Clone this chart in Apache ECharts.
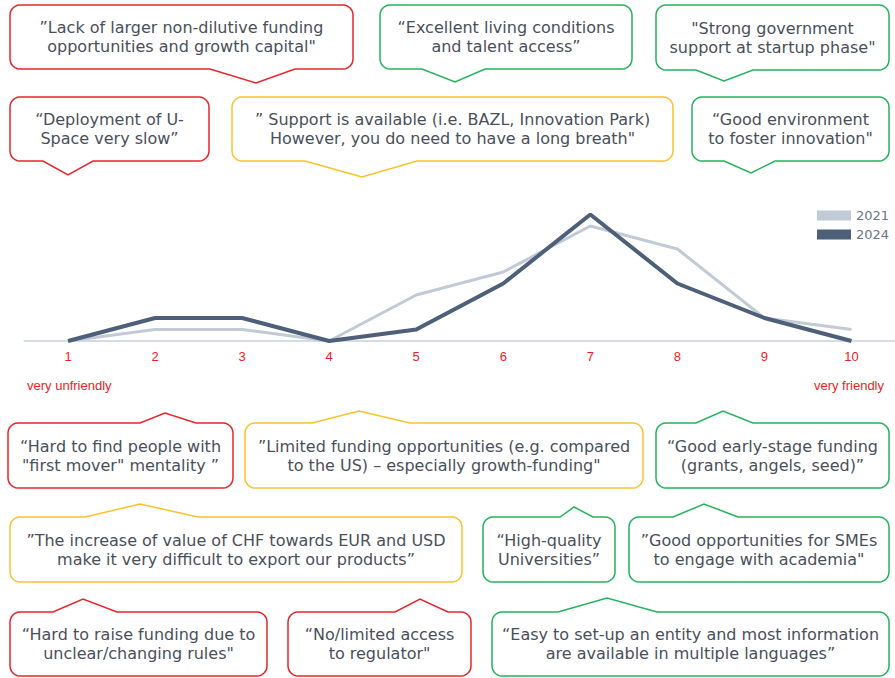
<!DOCTYPE html>
<html>
<head>
<meta charset="utf-8">
<script src="https://cdn.jsdelivr.net/npm/echarts@6/dist/echarts.min.js"></script>
<style>
  html, body { margin: 0; padding: 0; background: #fff; }
  #main { width: 895px; height: 678px; }
</style>
</head>
<body>
<div id="main"></div>
<script>
// friendliness score 1..10, number of answers per score
var categories = ['1', '2', '3', '4', '5', '6', '7', '8', '9', '10'];
var seriesNames = ['2021', '2024'];
var values2021 = [0, 1, 1, 0, 4, 6, 10, 8, 2, 1];
var values2024 = [0, 2, 2, 0, 1, 5, 11, 5, 2, 0];
var scaleEnds = ['very unfriendly', 'very friendly'];

// quotes shown around the chart
var quotes = [
  '”Lack of larger non-dilutive funding\nopportunities and growth capital"',
  '“Excellent living conditions\nand talent access”',
  '"Strong government\nsupport at startup phase"',
  '“Deployment of U-\nSpace very slow”',
  '” Support is available (i.e. BAZL, Innovation Park)\nHowever, you do need to have a long breath"',
  '“Good environment\nto foster innovation"',
  '“Hard to find people with\n"first mover" mentality ”',
  '”Limited funding opportunities (e.g. compared\nto the US) – especially growth-funding"',
  '“Good early-stage funding\n(grants, angels, seed)”',
  '”The increase of value of CHF towards EUR and USD\nmake it very difficult to export our products”',
  '“High-quality\nUniversities”',
  '”Good opportunities for SMEs\nto engage with academia"',
  '“Hard to raise funding due to\nunclear/changing rules"',
  '“No/limited access\nto regulator"',
  '“Easy to set-up an entity and most information\nare available in multiple languages”'
];
var quoteTones = ['neg', 'pos', 'pos', 'neg', 'mid', 'pos', 'neg', 'mid', 'pos', 'mid', 'pos', 'pos', 'neg', 'neg', 'pos'];

// bubble boxes: x0, y0, x1, y1, pointer base x0, base x1, tip x, tip y
var boxes = [
  [10, 5, 353, 69, 210, 295, 256, 83],
  [380, 5, 632, 69, 422, 485, 455, 82],
  [656, 5, 889, 70, 696, 753, 724, 81],
  [10, 97, 209, 161, 43, 93, 68, 175],
  [232, 97, 673, 161, 305, 417, 362, 177],
  [692, 97, 889, 161, 724, 775, 751, 173],
  [8, 423, 233, 488, 140, 196, 165, 413],
  [245, 423, 643, 488, 312, 410, 359, 411],
  [656, 423, 889, 488, 696, 753, 723, 411],
  [10, 517, 462, 582, 85, 198, 140, 504],
  [483, 517, 615, 582, 560, 593, 574, 507],
  [629, 517, 889, 582, 673, 738, 704, 504],
  [10, 612, 267, 676, 53, 117, 83, 599],
  [288, 612, 471, 676, 395, 448, 420, 599],
  [492, 612, 889, 676, 558, 657, 607, 598]
];
var toneColors = { neg: '#e8242b', pos: '#22b45a', mid: '#fcc12c' };
var textFont = '16px "DejaVu Sans"';

function bubblePoints(b) {
  var x0 = b[0], y0 = b[1], x1 = b[2], y1 = b[3];
  var r = 10, pts = [];
  function arc(cx, cy, a0, a1) {
    for (var i = 0; i <= 6; i++) {
      var a = a0 + (a1 - a0) * i / 6;
      pts.push([cx + r * Math.cos(a), cy + r * Math.sin(a)]);
    }
  }
  arc(x0 + r, y0 + r, Math.PI, 1.5 * Math.PI);
  if (b[7] < y0) pts.push([b[4], y0], [b[6], b[7]], [b[5], y0]);
  arc(x1 - r, y0 + r, 1.5 * Math.PI, 2 * Math.PI);
  arc(x1 - r, y1 - r, 0, 0.5 * Math.PI);
  if (b[7] > y1) pts.push([b[5], y1], [b[6], b[7]], [b[4], y1]);
  arc(x0 + r, y1 - r, 0.5 * Math.PI, Math.PI);
  return pts;
}

var graphics = [];
boxes.forEach(function (b, i) {
  graphics.push({
    type: 'polygon',
    shape: { points: bubblePoints(b) },
    style: { fill: '#fff', stroke: toneColors[quoteTones[i]], lineWidth: 1.5 }
  });
  graphics.push({
    type: 'text',
    x: (b[0] + b[2]) / 2,
    y: (b[1] + b[3]) / 2,
    style: {
      text: quotes[i],
      font: textFont,
      fill: '#4a4f5a',
      lineHeight: 19,
      align: 'center',
      verticalAlign: 'middle',
      textAlign: 'center',
      textVerticalAlign: 'middle'
    }
  });
});
graphics.push({
  type: 'text', x: 27, y: 385,
  style: { text: scaleEnds[0], font: '13px "Liberation Sans"', fill: '#ee1c25',
    align: 'left', verticalAlign: 'middle', textAlign: 'left', textVerticalAlign: 'middle' }
});
graphics.push({
  type: 'text', x: 884, y: 385,
  style: { text: scaleEnds[1], font: '13px "Liberation Sans"', fill: '#ee1c25',
    align: 'right', verticalAlign: 'middle', textAlign: 'right', textVerticalAlign: 'middle' }
});

var myChart = echarts.init(document.getElementById('main'), null, { renderer: 'svg' });
var option = {
  animation: false,
  backgroundColor: '#fff',
  grid: { left: 24.5, right: 0, top: 203, bottom: 337 },
  legend: {
    orient: 'vertical',
    left: 812,
    top: 204,
    icon: 'rect',
    itemWidth: 34,
    itemHeight: 10,
    itemGap: 6,
    textStyle: { color: '#6b7586', fontSize: 13, fontFamily: 'DejaVu Sans' },
    data: seriesNames
  },
  xAxis: {
    type: 'category',
    data: categories,
    boundaryGap: true,
    axisLine: { lineStyle: { color: '#d6dce4', width: 2 } },
    axisTick: { show: false },
    axisLabel: { color: '#ee1c25', fontSize: 13, margin: 9, fontFamily: 'Liberation Sans' }
  },
  yAxis: {
    type: 'value',
    min: 0,
    max: 12,
    show: false,
    splitLine: { show: false }
  },
  series: [
    {
      name: seriesNames[0],
      type: 'line',
      data: values2021,
      symbol: 'none',
      color: '#c1cad6',
      lineStyle: { color: '#c1cad6', width: 3 }
    },
    {
      name: seriesNames[1],
      type: 'line',
      data: values2024,
      symbol: 'none',
      color: '#4d5f79',
      lineStyle: { color: '#4d5f79', width: 4 }
    }
  ],
  graphic: graphics
};
myChart.setOption(option);
</script>
</body>
</html>
